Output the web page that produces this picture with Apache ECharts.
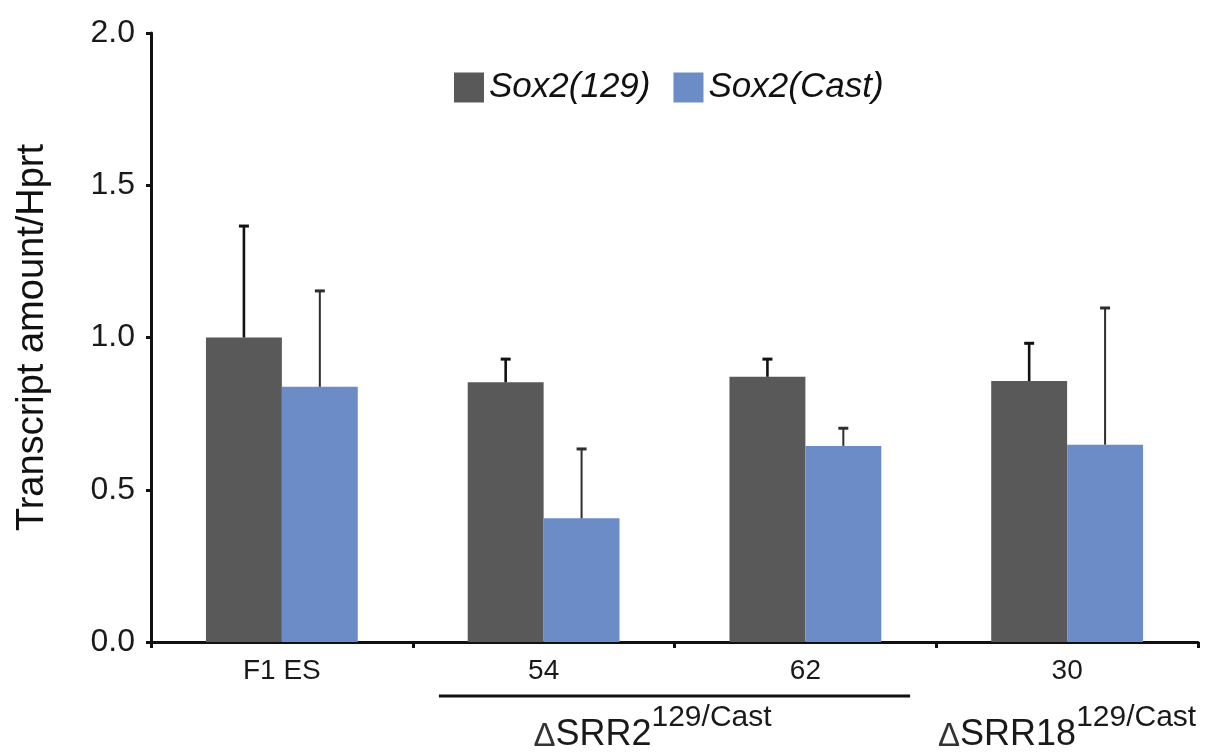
<!DOCTYPE html>
<html>
<head>
<meta charset="utf-8">
<script src="https://cdn.jsdelivr.net/npm/echarts@6/dist/echarts.min.js"></script>
<style>
html,body{margin:0;padding:0;background:#fff;}
#chart{width:1214px;height:755px;}
</style>
</head>
<body>
<div id="chart"></div>
<script>
// ---- data ----
const categories = ['F1 ES', '54', '62', '30'];
const seriesNames = ['Sox2(129)', 'Sox2(Cast)'];
const sox129 = [1.0, 0.853, 0.871, 0.857];
const sox129Err = [0.366, 0.076, 0.058, 0.124];
const soxCast = [0.838, 0.406, 0.644, 0.648];
const soxCastErr = [0.315, 0.228, 0.058, 0.449];
const yTicks = [0, 0.5, 1.0, 1.5, 2.0];
const groupNames = ['SRR2', 'SRR18'];
const groupFrom = [1, 3];
const groupTo = [2, 3];
const groupUnderline = [true, false];
const groupSup = '129/Cast';

const colors = ['#595959', '#6c8cc8'];
const errColors = ['#111111', '#2e2e2e'];
const errWidths = [2.6, 2.0];
const FONT = '"Liberation Sans", Arial, sans-serif';

const chart = echarts.init(document.getElementById('chart'), null, {renderer: 'canvas'});

function errData(vals, errs) {
  return vals.map((v, i) => [i, v, v + errs[i]]);
}
function errSeries(k, vals, errs) {
  const sign = k === 0 ? -1 : 1;
  return {
    type: 'custom',
    name: seriesNames[k] + ' err',
    z: 5,
    silent: true,
    encode: {x: 0, y: [1, 2]},
    data: errData(vals, errs),
    renderItem: function (params, api) {
      const idx = api.value(0);
      const base = api.coord([idx, api.value(1)]);
      const top = api.coord([idx, api.value(2)]);
      const band = api.size([1, 0])[0];
      const x = base[0] + sign * band * 0.145;
      const cap = 5;
      const style = {stroke: errColors[k], lineWidth: errWidths[k], fill: null};
      return {
        type: 'group',
        children: [
          {type: 'line', shape: {x1: x, y1: base[1], x2: x, y2: top[1]}, style: style},
          {type: 'line', shape: {x1: x - cap, y1: top[1], x2: x + cap, y2: top[1]},
           style: {stroke: errColors[k], lineWidth: 3}}
        ]
      };
    }
  };
}

const option = {
  animation: false,
  backgroundColor: '#ffffff',
  grid: {left: 151, right: 16, top: 33, bottom: 113, containLabel: false, outerBoundsMode: 'none'},
  legend: {
    data: seriesNames,
    left: 449, top: 65,
    itemWidth: 30, itemHeight: 30, itemGap: 23,
    icon: 'rect',
    textStyle: {fontFamily: FONT, fontSize: 35, fontStyle: 'italic', color: '#111'}
  },
  xAxis: {
    type: 'category',
    data: categories,
    axisLine: {lineStyle: {color: '#111', width: 3}},
    axisTick: {show: true, length: 6, lineStyle: {color: '#111', width: 3}},
    axisLabel: {fontFamily: FONT, fontSize: 28, color: '#1a1a1a', margin: 15},
    splitLine: {show: false}
  },
  yAxis: {
    type: 'value',
    min: yTicks[0], max: yTicks[yTicks.length - 1], interval: yTicks[1] - yTicks[0],
    name: 'Transcript amount/Hprt',
    nameLocation: 'middle', nameRotate: 90, nameGap: 99,
    nameTextStyle: {fontFamily: FONT, fontSize: 38, color: '#111'},
    axisLine: {show: true, lineStyle: {color: '#111', width: 3}},
    axisTick: {show: true, length: 5, lineStyle: {color: '#111', width: 3}},
    axisLabel: {fontFamily: FONT, fontSize: 32, color: '#1a1a1a', margin: 16,
      formatter: v => v.toFixed(1)},
    splitLine: {show: false}
  },
  series: [
    {type: 'bar', name: seriesNames[0], data: sox129, barWidth: '29%', barGap: '0%',
     itemStyle: {color: colors[0]}},
    {type: 'bar', name: seriesNames[1], data: soxCast, barWidth: '29%', barGap: '0%',
     itemStyle: {color: colors[1]}},
    errSeries(0, sox129, sox129Err),
    errSeries(1, soxCast, soxCastErr)
  ]
};
chart.setOption(option);

// group annotations below the axis
const px = i => chart.convertToPixel({xAxisIndex: 0}, i);
const band = px(1) - px(0);
const graphics = [];
groupNames.forEach((g, gi) => {
  const a = px(groupFrom[gi]), b = px(groupTo[gi]);
  let cx = (a + b) / 2;
  if (groupUnderline[gi]) {
    graphics.push({
      type: 'line',
      shape: {x1: a - band * 0.4, y1: 696, x2: b + band * 0.4, y2: 696},
      style: {stroke: '#111', lineWidth: 3}
    });
    cx = cx - 22;
  }
  graphics.push({
    type: 'text',
    x: cx, y: 753,
    style: {
      text: '{d|Δ}{m|' + g + '}{s|' + groupSup + '}',
      align: 'center', verticalAlign: 'bottom',
      fill: '#1a1a1a',
      rich: {
        d: {fontFamily: FONT, fontSize: 33, lineHeight: 38, verticalAlign: 'bottom', fill: '#333'},
        m: {fontFamily: FONT, fontSize: 36, lineHeight: 40, verticalAlign: 'bottom', fill: '#1a1a1a'},
        s: {fontFamily: FONT, fontSize: 30, lineHeight: 30, verticalAlign: 'bottom',
            padding: [0, 0, 20, 0], fill: '#1a1a1a'}
      }
    }
  });
});
chart.setOption({graphic: graphics});
</script>
</body>
</html>
